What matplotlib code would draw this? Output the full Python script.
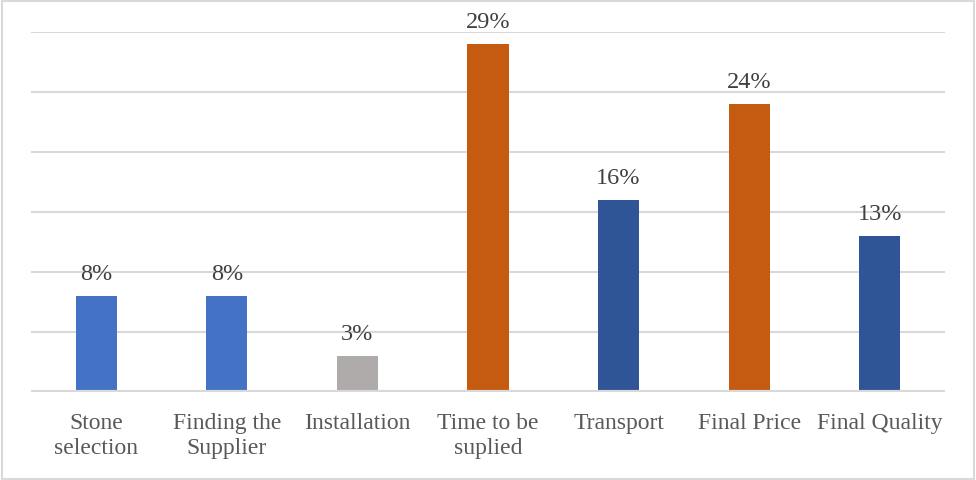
import matplotlib.pyplot as plt

# categories and shares (percent)
categories = ['Stone\nselection', 'Finding the\nSupplier', 'Installation',
              'Time to be\nsuplied', 'Transport', 'Final Price', 'Final Quality']
shares = [8, 8, 3, 29, 16, 24, 13]
bar_colors = ['#4472C4', '#4472C4', '#AFABAB', '#C55A11', '#2F5597', '#C55A11', '#2F5597']
y_ticks = [0, 5, 10, 15, 20, 25, 30]

plt.rcParams['font.family'] = ['Liberation Serif', 'DejaVu Serif']

fig = plt.figure(figsize=(9.76, 4.8), dpi=100)
ax = fig.add_axes([31 / 976, 88 / 480, 914 / 976, 360 / 480])

x = range(len(categories))
bars = ax.bar(x, shares, width=0.315, color=bar_colors, zorder=3)

for rect, val in zip(bars, shares):
    ax.text(rect.get_x() + rect.get_width() / 2, val + 0.9, f'{val}%',
            ha='center', va='bottom', fontsize=17.5, color='#404040')

# horizontal gridlines, baseline drawn heavier
for yv in y_ticks[1:]:
    ax.axhline(yv, color='#D9D9D9', lw=1.5, zorder=1)
ax.axhline(0, color='#D9D9D9', lw=3, zorder=4)

ax.set_xlim(-0.5, len(categories) - 0.5)
ax.set_ylim(0, 30)
ax.set_yticks([])
ax.set_xticks(list(x))
ax.set_xticklabels(categories, fontsize=17, color='#595959', linespacing=1.25)
ax.tick_params(axis='x', length=0, pad=15)
for s in ax.spines.values():
    s.set_visible(False)

# light frame around the whole chart
fig.patches.append(plt.Rectangle((0.002, 0.003), 0.996, 0.994, transform=fig.transFigure,
                                 fill=False, edgecolor='#D9D9D9', lw=1.5))

fig.savefig('out.png', dpi=100)
